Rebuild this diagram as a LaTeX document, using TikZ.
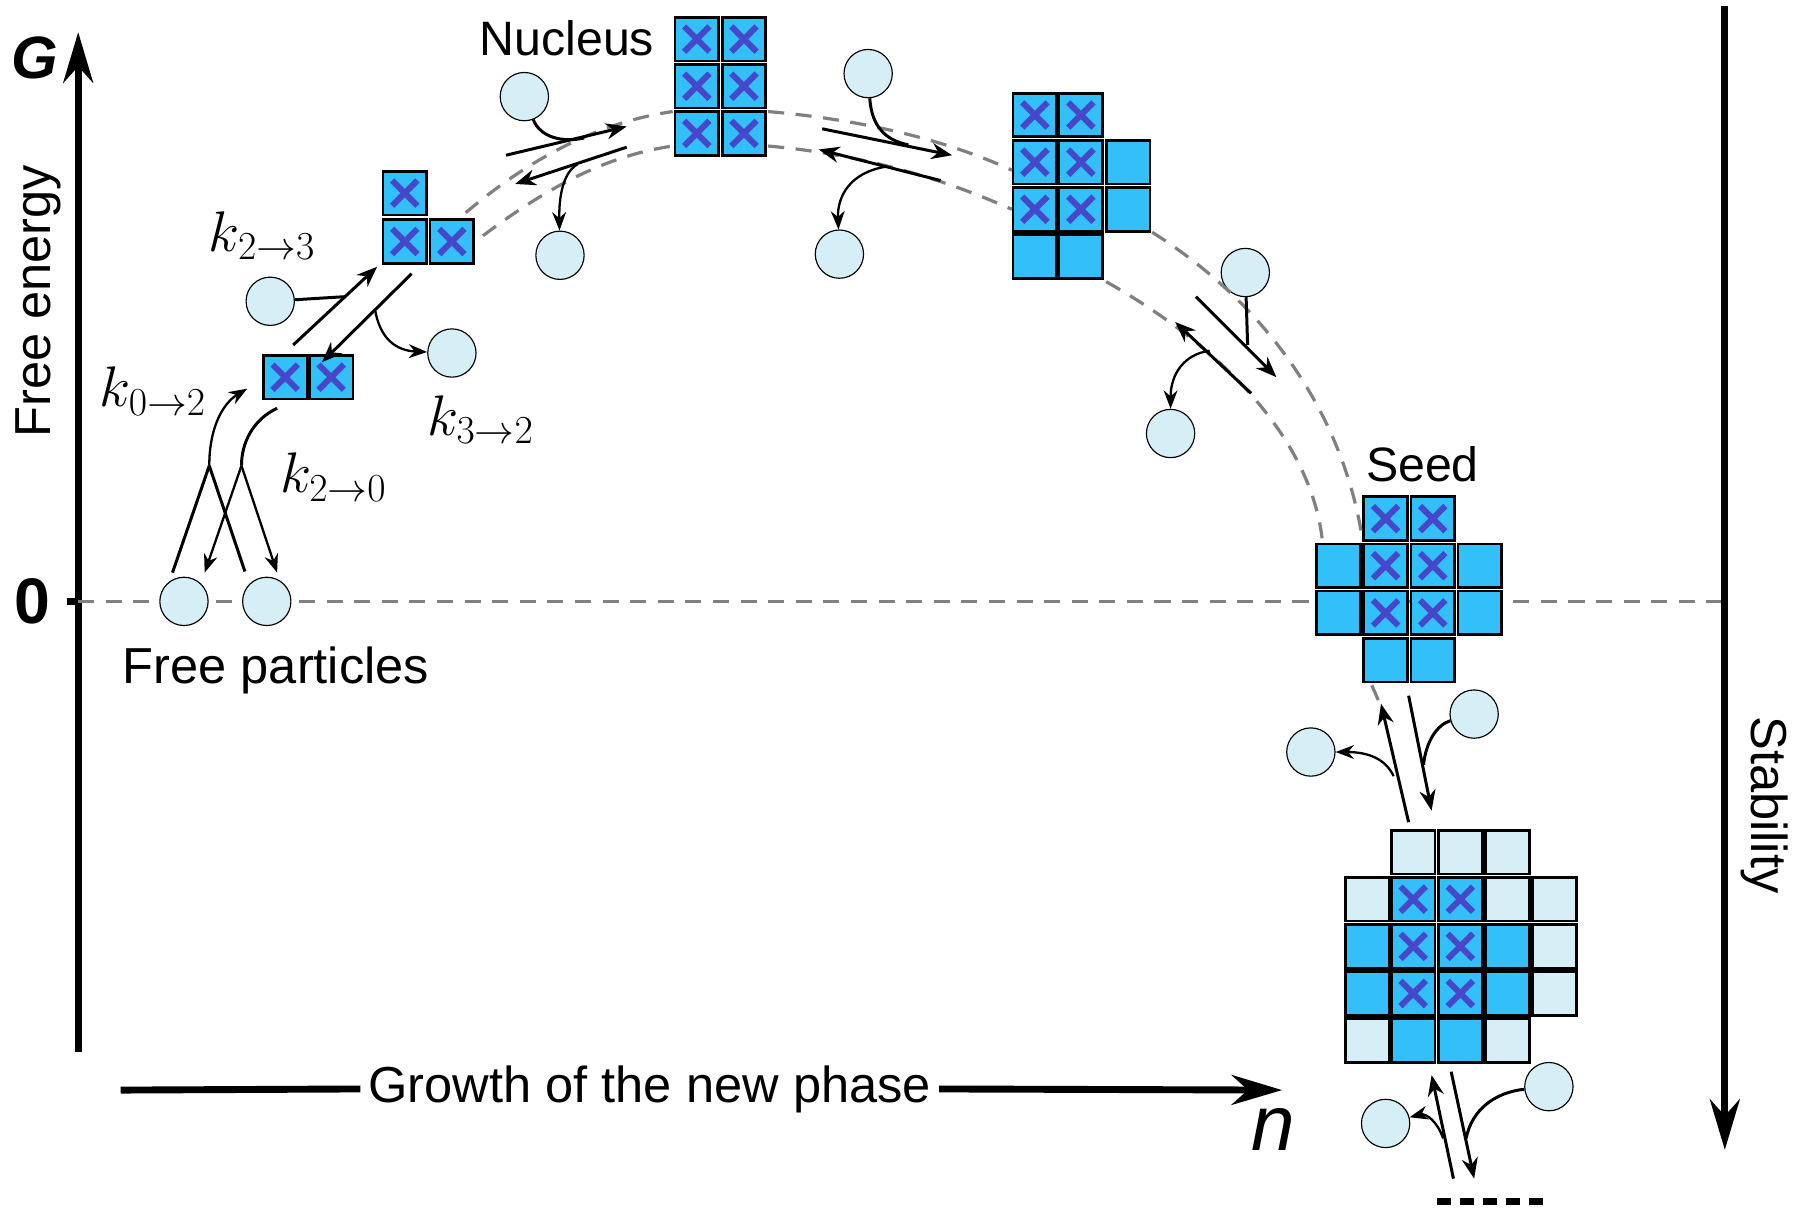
\documentclass[tikz,border=0pt]{standalone}
\usepackage{fontspec}
\setmainfont{Liberation Sans}
\usetikzlibrary{arrows.meta}
\definecolor{cellblue}{HTML}{33BFF7}
\definecolor{crossblue}{HTML}{4747CC}
\definecolor{paleblue}{HTML}{D6EFF6}
\tikzset{
  cell/.style={draw=black, line width=1.2pt, fill=cellblue, minimum size=19pt, inner sep=0pt},
  lcell/.style={cell, fill=paleblue},
  xcell/.style={cell, path picture={
      \draw[crossblue, line width=2.6pt]
        ([shift={(4pt,4pt)}]path picture bounding box.south west) -- ([shift={(-4pt,-4pt)}]path picture bounding box.north east)
        ([shift={(4pt,-4pt)}]path picture bounding box.north west) -- ([shift={(-4pt,4pt)}]path picture bounding box.south east);}},
  particle/.style={circle, draw=black, line width=0.5pt, fill=paleblue, minimum size=21pt, inner sep=0pt},
  react/.style={line width=1.3pt, -{Stealth[length=9pt,width=7pt]}},
  bond/.style={line width=1.3pt},
  curl/.style={line width=1pt, -{Stealth[length=8pt,width=6pt]}},
  path/.style={gray, dashed, dash pattern=on 7pt off 5pt, line width=1.4pt},
  klabel/.style={font=\fontsize{25}{28}\selectfont}
}
\begin{document}
\begin{tikzpicture}[x=0.5pt, y=-0.5pt]
  \useasboundingbox (0,0) rectangle (1568,1061);

  % Axes
  \draw[line width=3pt, -{Stealth[length=22pt,width=13pt]}] (68,915) coordinate (g0) -- (68,28) coordinate (g1);
  \node[font=\fontsize{26}{28}\selectfont\bfseries\itshape\rmfamily] (glab) at (30,50) {G};
  \node[font=\fontsize{28}{30}\selectfont\bfseries\rmfamily] (zlab) at (28,523) {0};
  \draw[line width=3pt] (58,523) -- (68,523);
  \node[rotate=90, font=\fontsize{22}{24}\selectfont] (fe) at (33,262) {Free energy};
  \draw[path] (68,523) coordinate (z0) -- (1500,523) coordinate (z1);
  \draw[line width=3pt, -{Stealth[length=22pt,width=13pt]}] (1500,5) coordinate (s0) -- (1500,1000) coordinate (s1);
  \node[rotate=-90, font=\fontsize{22}{24}\selectfont] (stab) at (1535,700) {Stability};
  \node[font=\fontsize{22}{24}\selectfont] (grow) at (565,947) {Growth of the new phase};
  \draw[line width=3pt] (105,948) -- (grow.west);
  \draw[line width=3pt, -{Stealth[length=22pt,width=13pt]}] (grow.east) -- (1115,948);
  \node[font=\fontsize{34}{36}\selectfont\itshape\rmfamily] (nlab) at (1107,982) {n};

  % Clusters
  \node[xcell] (d1) at (248,328) {};
  \node[xcell] (d2) at (288,328) {};
  \foreach \x/\y [count=\i] in {352/168, 352/210, 393/210}
    \node[xcell] (t\i) at (\x,\y) {};
  \foreach \x/\y [count=\i] in {606/34, 647/34, 606/75, 647/75, 606/116, 647/116}
    \node[xcell] (nu\i) at (\x,\y) {};
  \foreach \x/\y [count=\i] in {900/100, 940/100, 900/141, 940/141, 900/182, 940/182}
    \node[xcell] (cx\i) at (\x,\y) {};
  \foreach \x/\y [count=\i] in {981/141, 981/182, 900/223, 940/223}
    \node[cell] (cb\i) at (\x,\y) {};
  \foreach \x/\y [count=\i] in {1205/451, 1246/451, 1205/492, 1246/492, 1205/533, 1246/533}
    \node[xcell] (sx\i) at (\x,\y) {};
  \foreach \x/\y [count=\i] in {1164/492, 1287/492, 1164/533, 1287/533, 1205/574, 1246/574}
    \node[cell] (sb\i) at (\x,\y) {};
  \foreach \x/\y [count=\i] in {1229/782, 1270/782, 1229/823, 1270/823, 1229/864, 1270/864}
    \node[xcell] (bx\i) at (\x,\y) {};
  \foreach \x/\y [count=\i] in {1189/823, 1311/823, 1189/864, 1311/864, 1229/905, 1270/905}
    \node[cell] (bb\i) at (\x,\y) {};
  \foreach \x/\y [count=\i] in {1229/741, 1270/741, 1311/741, 1189/782, 1311/782, 1352/782, 1352/823, 1352/864, 1189/905, 1311/905}
    \node[lcell] (bl\i) at (\x,\y) {};

  % Particles
  \foreach \x/\y [count=\i] in {160/523, 232/523, 235/262, 393/307, 456/84, 487/222, 755/64, 730/221,
      1083/237, 1018/377, 1140/654, 1282/621, 1205/977, 1347/945}
    \node[particle] (p\i) at (\x,\y) {};

  % Labels
  \node[font=\fontsize{21}{24}\selectfont] (nuc) at (493,33) {Nucleus};
  \node[font=\fontsize{21}{24}\selectfont] (seed) at (1237,404) {Seed};
  \node[font=\fontsize{22}{24}\selectfont] (free) at (240,583) {Free particles};
  \node[klabel] (k23) at (228,205) {$k_{2\to3}$};
  \node[klabel] (k02) at (133,340) {$k_{0\to2}$};
  \node[klabel] (k32) at (418,365) {$k_{3\to2}$};
  \node[klabel] (k20) at (290,415) {$k_{2\to0}$};
  \draw[line width=3pt, dash pattern=on 6pt off 4pt] (1250,1045) coordinate (e0) -- (1345,1045) coordinate (e1);

  % Growth path
  \draw[path] (405,185) .. controls (470,130) and (530,105) .. (585,97);
  \draw[path] (420,205) .. controls (480,160) and (530,135) .. (585,127);
  \draw[path] (668,97) .. controls (760,105) and (830,125) .. (880,148);
  \draw[path] (668,127) .. controls (760,135) and (830,160) .. (880,182);
  \draw[path] (1002,202) .. controls (1110,270) and (1170,370) .. (1185,470);
  \draw[path] (962,245) .. controls (1060,300) and (1140,380) .. (1150,470);
  \draw[path] (1193,596) -- (1200,612);

  % Free particles <-> dimer
  \coordinate (m1) at (182,405);
  \coordinate (m2) at (210,405);
  \draw[bond] (150,498) -- (m1);
  \draw[bond] (213,497) -- (m1);
  \draw[curl] (m1) .. controls (182,370) and (195,350) .. (215,338);
  \draw[bond] (241,355) .. controls (220,365) and (210,385) .. (m2);
  \draw[curl] (m2) -- (178,498);
  \draw[curl] (m2) -- (241,498);

  % Dimer <-> trimer
  \coordinate (a1) at (255,300); \coordinate (a2) at (328,232);
  \draw[react] (a1) -- (a2);
  \draw[bond] (p3) -- (300,258);
  \coordinate (b1) at (358,238); \coordinate (b2) at (280,315);
  \draw[react] (b1) -- (b2);
  \draw[curl] (326,268) .. controls (330,295) and (345,305) .. (p4);

  % Trimer <-> nucleus
  \coordinate (c1) at (440,135); \coordinate (c2) at (545,110);
  \draw[react] (c1) -- (c2);
  \draw[bond] (p5) .. controls (470,120) and (490,124) .. (508,120);
  \coordinate (c3) at (545,128); \coordinate (c4) at (448,160);
  \draw[react] (c3) -- (c4);
  \draw[curl] (502,143) .. controls (490,150) and (486,170) .. (p6);

  % Nucleus <-> next cluster
  \coordinate (e2) at (715,112); \coordinate (e3) at (828,135);
  \draw[react] (e2) -- (e3);
  \draw[bond] (p7) .. controls (758,110) and (770,122) .. (790,126);
  \coordinate (e4) at (818,157); \coordinate (e5) at (712,130);
  \draw[react] (e4) -- (e5);
  \draw[curl] (770,145) .. controls (740,150) and (728,170) .. (p8);

  % Next cluster <-> seed
  \coordinate (f1) at (1040,258); \coordinate (f2) at (1110,328);
  \draw[react] (f1) -- (f2);
  \draw[bond] (p9) -- (1085,300);
  \coordinate (f3) at (1088,342); \coordinate (f4) at (1022,280);
  \draw[react] (f3) -- (f4);
  \draw[curl] (1052,305) .. controls (1030,308) and (1018,325) .. (p10);

  % Seed <-> larger cluster
  \coordinate (h1) at (1225,605); \coordinate (h2) at (1245,705);
  \draw[react] (h1) -- (h2);
  \draw[bond] (p12) .. controls (1250,630) and (1240,645) .. (1238,665);
  \coordinate (h3) at (1225,715); \coordinate (h4) at (1201,612);
  \draw[react] (h3) -- (h4);
  \draw[curl] (1212,675) .. controls (1205,660) and (1190,654) .. (p11);

  % Larger cluster <-> beyond
  \coordinate (i1) at (1262,932); \coordinate (i2) at (1282,1025);
  \draw[react] (i1) -- (i2);
  \draw[bond] (p14) .. controls (1300,950) and (1280,965) .. (1275,990);
  \coordinate (i3) at (1264,1025); \coordinate (i4) at (1245,935);
  \draw[react] (i3) -- (i4);
  \draw[curl] (1255,990) .. controls (1250,975) and (1240,968) .. (p13);
\end{tikzpicture}
\end{document}
